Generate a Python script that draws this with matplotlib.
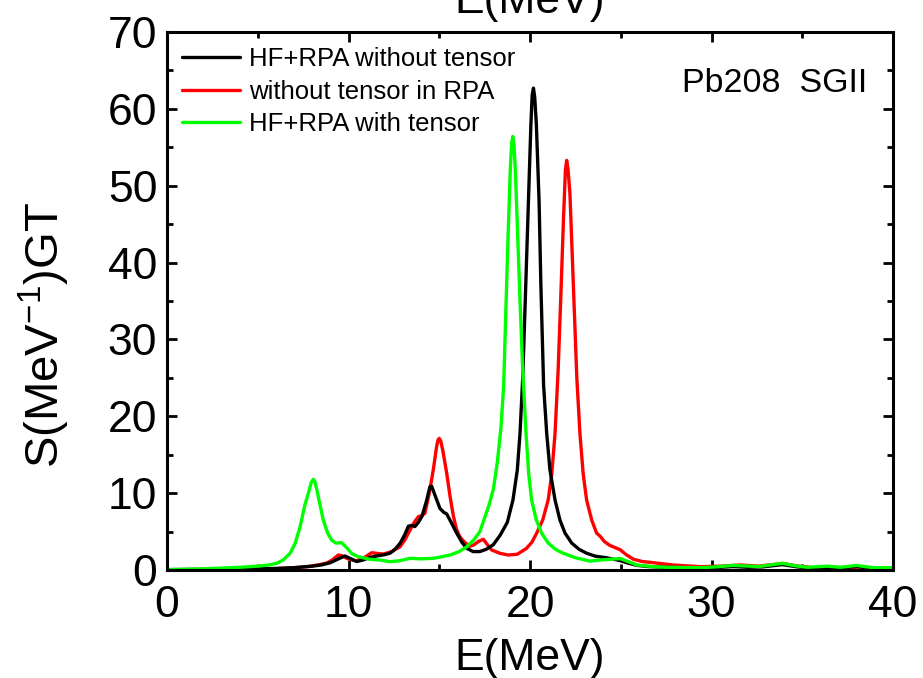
import numpy as np
import matplotlib
matplotlib.use("Agg")
import matplotlib.pyplot as plt

plt.rcParams['font.family'] = ['Liberation Sans', 'DejaVu Sans']
plt.rcParams['mathtext.default'] = 'regular'

# HF+RPA without tensor (black)
e_black = [0, 2, 4, 5, 6, 7, 7.5, 8, 8.5, 9, 9.4, 9.8, 10.1, 10.45, 10.8, 11.2,
           11.55, 12.0, 12.3, 12.6, 12.85, 13.1, 13.3, 13.5, 13.66, 13.85, 14.05,
           14.3, 14.48, 14.58, 14.8, 15.04, 15.25, 15.41, 15.7, 15.96, 16.25, 16.5,
           16.86, 17.24, 17.6, 17.98, 18.35, 18.75, 19.06, 19.3, 19.45, 19.6, 19.74,
           19.9, 20.05, 20.12, 20.19, 20.26, 20.35, 20.5, 20.6, 20.75, 20.92, 21.1,
           21.38, 21.65, 21.93, 22.3, 22.7, 23.1, 23.6, 24.2, 24.6, 25.0, 25.4, 25.9,
           26.5, 27.5, 28.5, 29.5, 30.5, 31.2, 32.0, 32.8, 33.9, 34.6, 35.3, 36.2,
           37.0, 38.0, 38.8, 40]
s_black = [0.05, 0.08, 0.12, 0.15, 0.2, 0.3, 0.4, 0.5, 0.65, 0.95, 1.4, 1.82, 1.5,
           1.1, 1.3, 1.65, 1.82, 2.0, 2.2, 2.8, 3.5, 4.6, 5.7, 5.8, 5.65, 6.2, 7.0,
           9.0, 10.8, 10.9, 9.5, 8.0, 7.5, 7.3, 6.0, 4.8, 3.6, 2.85, 2.4, 2.4, 2.7,
           3.3, 4.5, 6.2, 9.1, 13.0, 17.8, 25.0, 35.1, 47.0, 58.0, 61.8, 62.7, 61.5,
           58.0, 48.0, 37.0, 24.0, 17.8, 13.0, 9.1, 6.5, 4.8, 3.5, 2.7, 2.2, 1.8,
           1.6, 1.4, 1.2, 0.9, 0.6, 0.45, 0.35, 0.3, 0.3, 0.35, 0.45, 0.35, 0.4, 0.7,
           0.45, 0.25, 0.35, 0.25, 0.45, 0.2, 0.2]

# without tensor in RPA (red)
e_red = [0, 2, 4, 6, 7, 7.8, 8.4, 8.8, 9.1, 9.44, 9.65, 9.9, 10.2, 10.45, 10.85,
         11.28, 11.6, 11.92, 12.4, 12.84, 13.1, 13.39, 13.65, 13.85, 14.05, 14.21,
         14.45, 14.67, 14.85, 14.93, 15.0, 15.08, 15.2, 15.41, 15.6, 15.78, 15.95,
         16.14, 16.4, 16.69, 16.9, 17.15, 17.43, 17.65, 17.89, 18.35, 18.8, 19.3,
         19.8, 20.1, 20.37, 20.7, 21.0, 21.2, 21.38, 21.55, 21.69, 21.85, 21.95,
         22.02, 22.09, 22.2, 22.42, 22.58, 22.75, 22.93, 23.12, 23.4, 23.67, 23.86,
         24.1, 24.4, 24.6, 24.96, 25.3, 25.7, 26.2, 26.8, 27.9, 29.4, 30.5, 31.6,
         32.6, 33.9, 34.8, 35.6, 36.5, 37.5, 38.2, 39.0, 40]
s_red = [0.03, 0.06, 0.1, 0.18, 0.3, 0.45, 0.7, 0.9, 1.3, 1.95, 1.85, 1.52, 1.3,
         1.2, 1.6, 2.25, 2.15, 2.08, 2.4, 3.03, 3.9, 5.2, 6.3, 6.94, 7.1, 7.37, 10.0,
         13.0, 16.0, 16.9, 17.13, 16.8, 15.5, 12.6, 9.5, 7.0, 5.3, 4.3, 3.6, 3.1,
         3.25, 3.7, 4.0, 3.3, 2.6, 2.17, 1.95, 2.05, 2.8, 3.6, 4.8, 6.5, 9.1, 12.5,
         17.8, 26.0, 35.1, 46.0, 52.0, 53.3, 52.3, 49.0, 35.1, 25.0, 17.8, 12.5, 9.1,
         6.5, 4.8, 4.4, 3.7, 3.2, 3.0, 2.65, 2.0, 1.4, 1.1, 0.95, 0.65, 0.43, 0.5,
         0.65, 0.5, 0.85, 0.5, 0.3, 0.35, 0.3, 0.4, 0.2, 0.2]

# HF+RPA with tensor (green)
e_green = [0, 1, 2, 3, 4, 5, 5.6, 6.04, 6.4, 6.78, 7.05, 7.33, 7.6, 7.79, 7.95,
           8.06, 8.15, 8.25, 8.4, 8.61, 8.85, 9.07, 9.3, 9.62, 9.9, 10.2, 10.54,
           11.18, 11.7, 12.29, 12.8, 13.39, 14.0, 14.67, 15.1, 15.6, 16.1, 16.5,
           16.9, 17.24, 17.5, 17.75, 17.98, 18.2, 18.4, 18.55, 18.66, 18.8, 18.92,
           18.99, 19.05, 19.12, 19.2, 19.3, 19.45, 19.6, 19.78, 19.93, 20.09, 20.35,
           20.64, 21.0, 21.4, 21.8, 22.5, 23.3, 23.86, 24.5, 24.96, 25.4, 25.9, 26.7,
           27.5, 29.4, 30.2, 31.2, 32.6, 33.9, 34.6, 35.3, 36.4, 37.1, 38.0, 38.9, 40]
s_green = [0.05, 0.1, 0.15, 0.25, 0.35, 0.5, 0.65, 0.87, 1.3, 2.17, 3.4, 5.6, 8.5,
           10.0, 11.4, 11.8, 11.5, 10.5, 8.8, 6.5, 4.8, 3.9, 3.5, 3.55, 2.9, 2.1,
           1.73, 1.39, 1.3, 1.08, 1.2, 1.52, 1.45, 1.52, 1.7, 1.95, 2.4, 3.0, 3.9,
           5.0, 6.8, 8.5, 10.5, 14.0, 18.5, 24.0, 33.0, 44.0, 52.5, 55.5, 56.4, 55.3,
           51.5, 45.0, 35.0, 26.0, 17.8, 12.5, 9.1, 6.5, 4.8, 3.5, 2.7, 2.2, 1.6,
           1.15, 1.3, 1.4, 1.5, 1.1, 0.65, 0.45, 0.35, 0.3, 0.4, 0.6, 0.45, 0.87,
           0.55, 0.35, 0.5, 0.35, 0.6, 0.3, 0.3]

labels = ['HF+RPA without tensor', 'without tensor in RPA', 'HF+RPA with tensor']

fig = plt.figure(figsize=(9.23, 6.78), dpi=100)
ax = fig.add_axes([167 / 923, 1 - 570 / 678, 726 / 923, 538 / 678])

lw = 2.4
opts = dict(lw=lw, solid_joinstyle='round', solid_capstyle='round')
l_red, = ax.plot(e_red, s_red, color='#ff0000', label=labels[1], **opts)
l_black, = ax.plot(e_black, s_black, color='black', label=labels[0], **opts)
l_green, = ax.plot(e_green, s_green, color='#00ff00', label=labels[2], **opts)

ax.set_xlim(0, 40)
ax.set_ylim(0, 70)
ax.set_xticks(np.arange(0, 41, 10))
ax.set_xticks(np.arange(0, 41, 5), minor=True)
ax.set_yticks(np.arange(0, 71, 10))
ax.set_yticks(np.arange(0, 71, 5), minor=True)

for sp in ax.spines.values():
    sp.set_linewidth(2.2)
ax.tick_params(which='both', direction='in', top=True, right=True, width=2)
ax.tick_params(which='major', length=7, labelsize=32)
ax.tick_params(which='minor', length=4)
ax.tick_params(axis='x', pad=11)
ax.tick_params(axis='y', pad=7)

leg = ax.legend(handles=[l_black, l_red, l_green], loc='upper left',
                bbox_to_anchor=(0.0, 1.0), frameon=False, fontsize=18.5,
                handlelength=2.25, handletextpad=0.35, labelspacing=0.33,
                borderaxespad=0.2)

ax.text(0.964, 0.905, 'Pb208  SGII', transform=ax.transAxes, ha='right',
        va='center', fontsize=24.5)

fig.text(530 / 923, 1 - 670 / 678, 'E(MeV)', ha='center', va='baseline', fontsize=32)
fig.text(530 / 923, 1 - 13 / 678, 'E(MeV)', ha='center', va='baseline', fontsize=32)
fig.text(44 / 923, 1 - 335 / 678, 'S(MeV$^{-1}$)GT', ha='center', va='center',
         rotation=90, fontsize=34)

fig.savefig('out.png', dpi=100)
